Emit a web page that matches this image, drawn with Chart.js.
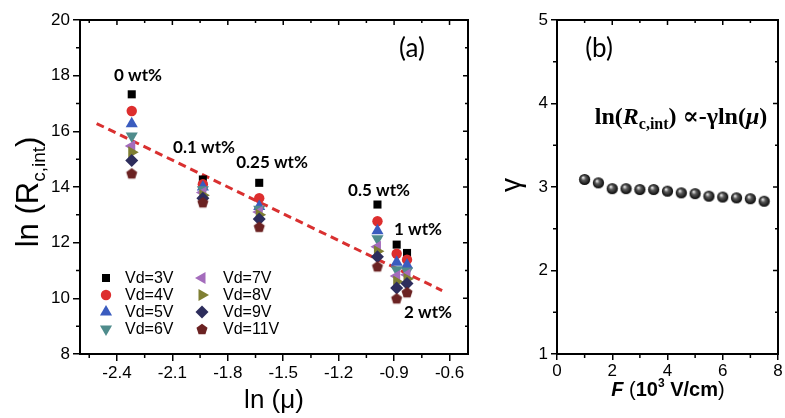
<!DOCTYPE html>
<html>
<head>
<meta charset="utf-8">
<script src="https://cdn.jsdelivr.net/npm/chart.js@4.4.1/dist/chart.umd.min.js"></script>
<style>
  body { margin: 0; background: #fff; width: 785px; height: 418px; overflow: hidden; position: relative; }
  #chartA { position: absolute; left: 0; top: 0; }
  #chartB { position: absolute; left: 480px; top: 0; }
</style>
</head>
<body>
<canvas id="chartA" width="480" height="418"></canvas>
<canvas id="chartB" width="305" height="418"></canvas>
<script>
// ---- panel (a) data ----
const lnMu = [-2.32, -1.935, -1.63, -0.99, -0.886, -0.83];
const vd3  = [17.33, 14.27, 14.15, 13.37, 11.93, 11.63];
const vd4  = [16.73, 14.10, 13.60, 12.77, 11.60, 11.39];
const vd5  = [16.27, 14.00, 13.30, 12.43, 11.30, 11.20];
const vd6  = [15.83, 13.90, 13.20, 12.14, 11.03, 10.98];
const vd7  = [15.47, 13.80, 13.10, 11.85, 10.80, 10.85];
const vd8  = [15.25, 13.70, 13.00, 11.69, 10.60, 10.70];
const vd9  = [14.95, 13.60, 12.85, 11.49, 10.37, 10.53];
const vd11 = [14.49, 13.45, 12.57, 11.15, 10.00, 10.22];
const vdLabels = ['Vd=3V', 'Vd=4V', 'Vd=5V', 'Vd=6V', 'Vd=7V', 'Vd=8V', 'Vd=9V', 'Vd=11V'];
const fitX = [-2.51, -0.64];
const fitY = [16.28, 10.28];
const xTicksA = [-2.4, -2.1, -1.8, -1.5, -1.2, -0.9, -0.6];

// ---- panel (b) data ----
const fieldF = [1, 1.5, 2, 2.5, 3, 3.5, 4, 4.5, 5, 5.5, 6, 6.5, 7, 7.5];
const gammaVals = [3.09, 3.05, 2.98, 2.98, 2.97, 2.97, 2.95, 2.93, 2.92, 2.89, 2.88, 2.87, 2.86, 2.83];

const SANS = "'Liberation Sans', Arial, sans-serif";

function pentagon(color, r) {
  const c = document.createElement('canvas');
  const s = Math.ceil(2 * r + 2);
  c.width = c.height = s;
  const g = c.getContext('2d');
  g.fillStyle = color;
  g.beginPath();
  for (let i = 0; i < 5; i++) {
    const a = -Math.PI / 2 + i * 2 * Math.PI / 5;
    const px = s / 2 + r * Math.cos(a), py = s / 2 + r * Math.sin(a) + 0.6;
    i ? g.lineTo(px, py) : g.moveTo(px, py);
  }
  g.closePath();
  g.fill();
  return c;
}

function sphere(r) {
  const c = document.createElement('canvas');
  const s = Math.ceil(2 * r + 1);
  c.width = c.height = s;
  const g = c.getContext('2d');
  const grad = g.createRadialGradient(s * 0.38, s * 0.35, 0.5, s / 2, s / 2, r);
  grad.addColorStop(0, '#e0e0e0');
  grad.addColorStop(0.35, '#5a5a5a');
  grad.addColorStop(1, '#050505');
  g.fillStyle = grad;
  g.beginPath();
  g.arc(s / 2, s / 2, r, 0, Math.PI * 2);
  g.fill();
  return c;
}

const markers = [
  { color: '#000000', style: 'rect', r: 5.7, rot: 0 },
  { color: '#dd2e2e', style: 'circle', r: 5.2, rot: 0 },
  { color: '#3a5cbf', style: 'triangle', r: 7, rot: 0 },
  { color: '#4f8c8c', style: 'triangle', r: 7, rot: 180 },
  { color: '#a46cbc', style: 'triangle', r: 7, rot: 270 },
  { color: '#7f7f33', style: 'triangle', r: 7, rot: 90 },
  { color: '#2d2d5c', style: 'rectRot', r: 6.5, rot: 0 },
  { color: '#6b2222', style: pentagon('#6b2222', 5.8), r: 6, rot: 0 }
];
const seriesA = [vd3, vd4, vd5, vd6, vd7, vd8, vd9, vd11];

const datasetsA = seriesA.map((vals, i) => ({
  label: vdLabels[i],
  data: lnMu.map((x, j) => ({ x: x, y: vals[j] })),
  pointStyle: markers[i].style,
  pointRadius: markers[i].r,
  pointRotation: markers[i].rot,
  pointBackgroundColor: markers[i].color,
  pointBorderWidth: 0,
  showLine: false,
  order: 10 - i
}));
datasetsA.push({
  type: 'line',
  label: 'fit',
  data: fitX.map((x, j) => ({ x: x, y: fitY[j] })),
  borderColor: '#d93030',
  borderWidth: 3,
  borderDash: [8, 5],
  pointRadius: 0,
  order: 20
});

// frame, mirrored and minor ticks
function frameTicks(chart, xMinor, yMinor) {
  const ctx = chart.ctx, a = chart.chartArea;
  const xs = chart.scales.x, ys = chart.scales.y;
  ctx.save();
  ctx.strokeStyle = '#000';
  ctx.lineWidth = 2;
  ctx.strokeRect(a.left, a.top, a.right - a.left, a.bottom - a.top);
  ctx.lineWidth = 1.5;
  ctx.beginPath();
  xs.ticks.forEach(t => {
    const px = xs.getPixelForValue(t.value);
    ctx.moveTo(px, a.top); ctx.lineTo(px, a.top + 5);
  });
  xMinor.forEach(v => {
    const px = xs.getPixelForValue(v);
    ctx.moveTo(px, a.bottom); ctx.lineTo(px, a.bottom + 4);
    ctx.moveTo(px, a.top); ctx.lineTo(px, a.top + 3);
  });
  ys.ticks.forEach(t => {
    const py = ys.getPixelForValue(t.value);
    ctx.moveTo(a.right, py); ctx.lineTo(a.right - 5, py);
  });
  yMinor.forEach(v => {
    const py = ys.getPixelForValue(v);
    ctx.moveTo(a.left, py); ctx.lineTo(a.left - 4, py);
    ctx.moveTo(a.right, py); ctx.lineTo(a.right - 3, py);
  });
  ctx.stroke();
  ctx.restore();
}

function drawRun(ctx, parts, x, y) {
  parts.forEach(p => {
    ctx.font = p.font;
    ctx.fillText(p.t, x, y + (p.dy || 0));
    x += ctx.measureText(p.t).width;
  });
  return x;
}
function runWidth(ctx, parts) {
  let w = 0;
  parts.forEach(p => { ctx.font = p.font; w += ctx.measureText(p.t).width; });
  return w;
}

const decorA = {
  id: 'decorA',
  afterDraw(chart) {
    frameTicks(chart,
      [-2.55, -2.25, -1.95, -1.65, -1.35, -1.05, -0.75],
      [9, 11, 13, 15, 17, 19]);
    const ctx = chart.ctx;
    ctx.save();
    ctx.fillStyle = '#000';
    // composition labels
    ctx.font = "bold 17px Lato, 'Open Sans', sans-serif";
    ctx.textAlign = 'center';
    ctx.textBaseline = 'middle';
    [['0 wt%', 138, 76], ['0.1 wt%', 204, 148], ['0.25 wt%', 272, 163],
     ['0.5 wt%', 379, 191], ['1 wt%', 418, 230], ['2 wt%', 428, 313]]
      .forEach(([t, x, y]) => ctx.fillText(t, x, y));
    ctx.font = "26px Lato, 'Open Sans', sans-serif";
    ctx.fillText('(a)', 412, 49);
    // legend
    ctx.textAlign = 'left';
    ctx.font = '16px ' + SANS;
    const rows = [278, 295, 312, 329];
    markers.forEach((m, i) => {
      const col = Math.floor(i / 4), row = i % 4;
      const mx = col ? 202 : 106, tx = col ? 223 : 125, y = rows[row];
      ctx.fillStyle = m.color;
      Chart.helpers.drawPoint(ctx, { pointStyle: m.style, radius: m.r, rotation: m.rot, borderWidth: 0 }, mx, y);
      ctx.fillStyle = '#000';
      ctx.fillText(vdLabels[i], tx, y + 1);
    });
    // y title
    ctx.save();
    ctx.translate(27, 192);
    ctx.rotate(-Math.PI / 2);
    const partsY = [
      { t: 'ln (R', font: '31px ' + SANS },
      { t: 'c,int', font: '19px ' + SANS, dy: 7 },
      { t: ')', font: '31px ' + SANS }
    ];
    ctx.textBaseline = 'alphabetic';
    drawRun(ctx, partsY, -runWidth(ctx, partsY) / 2, 11);
    ctx.restore();
    // x title
    ctx.font = '26px ' + SANS;
    ctx.textAlign = 'center';
    ctx.textBaseline = 'alphabetic';
    ctx.fillText('ln (\u03bc)', 274, 408);
    ctx.restore();
  }
};

new Chart(document.getElementById('chartA'), {
  type: 'scatter',
  data: { datasets: datasetsA },
  options: {
    responsive: false,
    animation: false,
    layout: { padding: { top: 20, right: 12, left: 0, bottom: 0 } },
    plugins: { legend: { display: false }, tooltip: { enabled: false } },
    scales: {
      x: {
        type: 'linear', min: -2.6, max: -0.5,
        afterBuildTicks: s => { s.ticks = xTicksA.map(v => ({ value: v })); },
        afterFit: s => { s.height = 64; },
        ticks: { color: '#000', font: { family: SANS, size: 17 }, padding: 2, callback: v => v.toFixed(1) },
        grid: { drawOnChartArea: false, color: '#000', lineWidth: 1.5, tickLength: 7 },
        border: { display: false }
      },
      y: {
        min: 8, max: 20,
        ticks: { stepSize: 2, color: '#000', font: { family: SANS, size: 17 }, padding: 3 },
        afterFit: s => { s.width = 80; },
        grid: { drawOnChartArea: false, color: '#000', lineWidth: 1.5, tickLength: 7 },
        border: { display: false }
      }
    }
  },
  plugins: [decorA]
});

// ---- panel (b) ----
const decorB = {
  id: 'decorB',
  afterDraw(chart) {
    frameTicks(chart, [1, 3, 5, 7], [1.5, 2.5, 3.5, 4.5]);
    const ctx = chart.ctx;
    ctx.save();
    ctx.fillStyle = '#000';
    ctx.textAlign = 'center';
    ctx.textBaseline = 'middle';
    ctx.font = "26px Lato, 'Open Sans', sans-serif";
    ctx.fillText('(b)', 119, 49);
    // relation
    ctx.textAlign = 'left';
    ctx.textBaseline = 'alphabetic';
    const SER = "'Liberation Serif', 'DejaVu Serif', serif";
    const eq = [
      { t: 'ln(', font: 'bold 24px ' + SER },
      { t: 'R', font: 'italic bold 24px ' + SER },
      { t: 'c,int', font: 'bold 16px ' + SER, dy: 5 },
      { t: ') \u221d-\u03b3ln(', font: 'bold 24px ' + SER },
      { t: '\u03bc', font: 'italic bold 24px ' + SER },
      { t: ')', font: 'bold 24px ' + SER }
    ];
    drawRun(ctx, eq, 201 - runWidth(ctx, eq) / 2, 124);
    // y title
    ctx.save();
    ctx.translate(32, 185);
    ctx.rotate(-Math.PI / 2);
    ctx.textAlign = 'center';
    ctx.textBaseline = 'middle';
    ctx.font = '28px ' + SANS;
    ctx.fillText('\u03b3', 0, 0);
    ctx.restore();
    // x title
    const xt = [
      { t: 'F', font: 'italic bold 20px ' + SANS },
      { t: ' (', font: '20px ' + SANS },
      { t: '10', font: 'bold 20px ' + SANS },
      { t: '3', font: 'bold 12px ' + SANS, dy: -9 },
      { t: ' V/cm', font: 'bold 20px ' + SANS },
      { t: ')', font: '20px ' + SANS }
    ];
    drawRun(ctx, xt, 188 - runWidth(ctx, xt) / 2, 396);
    ctx.restore();
  }
};

new Chart(document.getElementById('chartB'), {
  type: 'scatter',
  data: {
    datasets: [{
      label: 'gamma',
      data: fieldF.map((f, i) => ({ x: f, y: gammaVals[i] })),
      pointStyle: sphere(5.6),
      pointRadius: 6
    }]
  },
  options: {
    responsive: false,
    animation: false,
    layout: { padding: { top: 20, right: 7, left: 0, bottom: 0 } },
    plugins: { legend: { display: false }, tooltip: { enabled: false } },
    scales: {
      x: {
        type: 'linear', min: 0, max: 8,
        ticks: { stepSize: 2, color: '#000', font: { family: SANS, size: 17 }, padding: 1 },
        afterFit: s => { s.height = 64; },
        grid: { drawOnChartArea: false, color: '#000', lineWidth: 1.5, tickLength: 6 },
        border: { display: false }
      },
      y: {
        min: 1, max: 5,
        ticks: { stepSize: 1, color: '#000', font: { family: SANS, size: 17 }, padding: 3 },
        afterFit: s => { s.width = 77; },
        grid: { drawOnChartArea: false, color: '#000', lineWidth: 1.5, tickLength: 6 },
        border: { display: false }
      }
    }
  },
  plugins: [decorB]
});
</script>
</body>
</html>
